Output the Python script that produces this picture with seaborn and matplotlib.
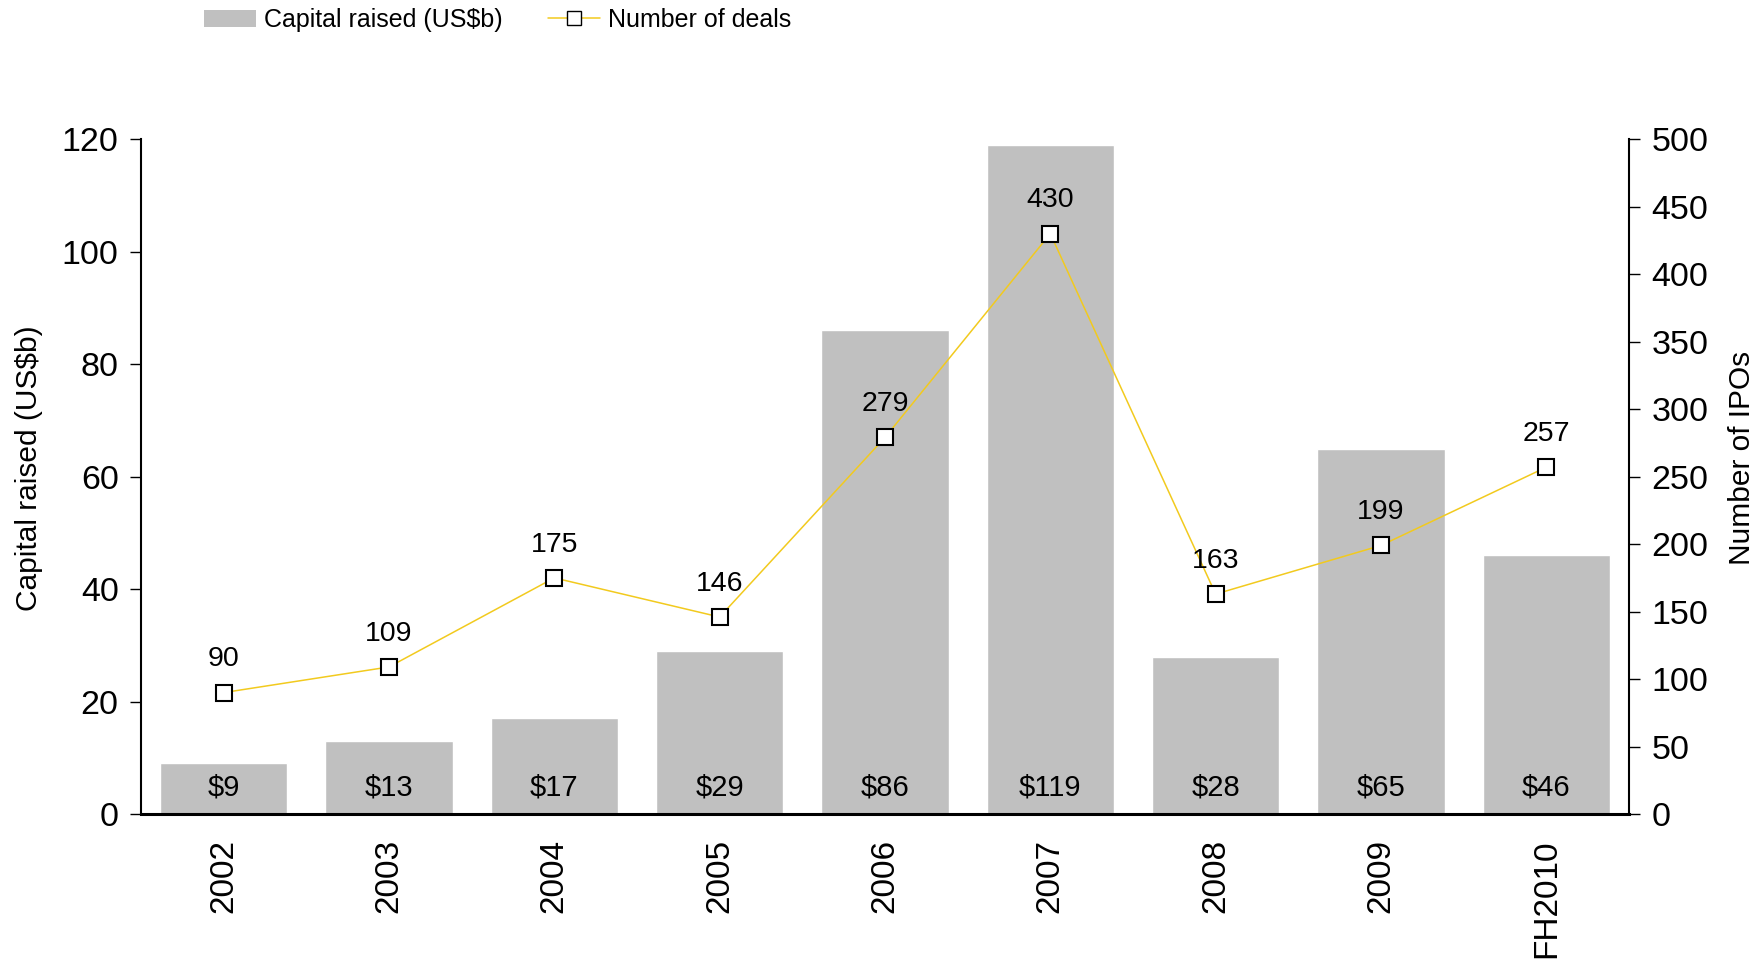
import matplotlib
matplotlib.use("Agg")
import matplotlib.pyplot as plt
import seaborn as sns
import numpy as np
import pandas as pd
from matplotlib.patches import Patch
from matplotlib.lines import Line2D

years = ["2002", "2003", "2004", "2005", "2006", "2007", "2008", "2009", "FH2010"]
capital = [9, 13, 17, 29, 86, 119, 28, 65, 46]
deals = [90, 109, 175, 146, 279, 430, 163, 199, 257]

bar_color = "#C0C0C0"
line_color = "#F2CA1E"

sns.set_theme(style="white")
plt.rcParams["font.family"] = ["Liberation Sans", "DejaVu Sans"]
plt.rcParams["text.color"] = "black"
plt.rcParams["axes.labelcolor"] = "black"
plt.rcParams["xtick.color"] = "black"
plt.rcParams["ytick.color"] = "black"

df = pd.DataFrame({"year": years, "capital": capital, "deals": deals})

fig = plt.figure(figsize=(17.62, 9.60), dpi=100)
ax = fig.add_axes([0.080, 0.152, 0.8445, 0.703])

sns.barplot(data=df, x="year", y="capital", color=bar_color, width=0.77,
            saturation=1, ax=ax)
ax.set_xlim(-0.5, len(years) - 0.5)
ax.set_ylim(0, 120)
ax.set_yticks(np.arange(0, 121, 20))
ax.set_xlabel("")
ax.set_ylabel("Capital raised (US$b)", fontsize=21.5)
ax.yaxis.set_label_coords(-0.066, 0.512)
ax.tick_params(axis="y", labelsize=24.5, direction="out", length=8, width=1,
               left=True, pad=8)
ax.tick_params(axis="x", labelsize=24, rotation=90, bottom=False, pad=12)
for s in ["top", "right"]:
    ax.spines[s].set_visible(False)
ax.spines["left"].set_color("black")
ax.spines["left"].set_linewidth(1.5)
ax.spines["bottom"].set_color("black")
ax.spines["bottom"].set_linewidth(2.2)

for i, v in enumerate(capital):
    ax.text(i, 4.8, f"${v}", ha="center", va="center", fontsize=21, color="black")

ax2 = ax.twinx()
sns.lineplot(x=np.arange(len(years)), y=deals, ax=ax2, color=line_color,
             linewidth=1.1, marker="s", markersize=12, markerfacecolor="white",
             markeredgecolor="black", markeredgewidth=1.5, legend=False)
ax2.set_ylim(0, 500)
ax2.set_yticks(np.arange(0, 501, 50))
ax2.set_ylabel("Number of IPOs", fontsize=21.5)
ax2.yaxis.set_label_coords(1.0665, 0.527)
ax2.tick_params(axis="y", labelsize=24.5, direction="out", length=8, width=1,
                right=True, pad=8)
ax2.grid(False)
for s in ["top", "left", "bottom"]:
    ax2.spines[s].set_visible(False)
ax2.spines["right"].set_color("black")
ax2.spines["right"].set_linewidth(1.5)

for i, v in enumerate(deals):
    ax2.annotate(str(v), (i, v), xytext=(0, 24), textcoords="offset points",
                 ha="center", va="center", fontsize=20.5, color="black")

handles = [
    Patch(facecolor=bar_color, edgecolor="none", label="Capital raised (US$b)"),
    Line2D([], [], color=line_color, linewidth=1.1, marker="s", markersize=10,
           markerfacecolor="white", markeredgecolor="black",
           label="Number of deals"),
]
fig.legend(handles=handles, loc="upper left", bbox_to_anchor=(0.103, 1.015),
           ncol=2, frameon=False, fontsize=18, handlelength=2.1,
           handletextpad=0.3, columnspacing=1.8)

fig.savefig("out.png", dpi=100)
